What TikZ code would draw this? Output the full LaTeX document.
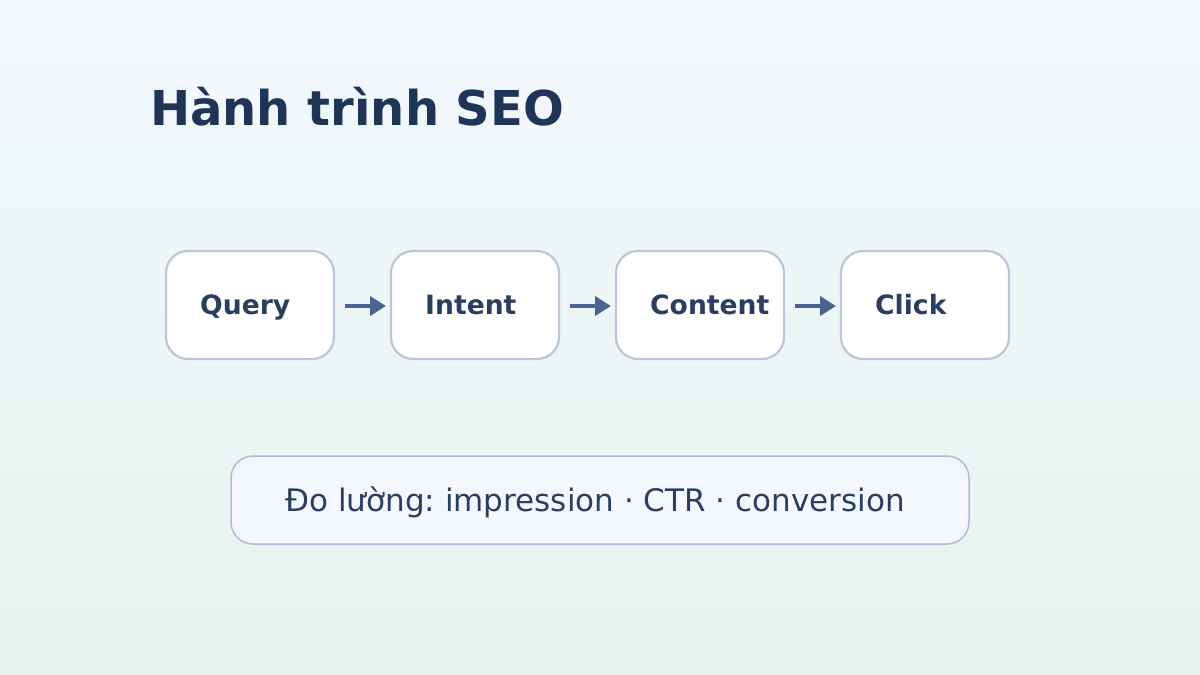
\documentclass[tikz,border=0pt]{standalone}
\usepackage{fontspec}
\setmainfont{DejaVu Sans}
\usetikzlibrary{arrows.meta}
\frenchspacing
\definecolor{bgtop}{HTML}{F3F8FE}
\definecolor{bgbot}{HTML}{E7F3EE}
\definecolor{titlec}{HTML}{1F3558}
\definecolor{textc}{HTML}{2A3F60}
\definecolor{arrowc}{HTML}{4A6491}
\definecolor{boxline}{HTML}{B9C7D9}
\definecolor{noteline}{HTML}{AEBCD8}
\definecolor{notefill}{HTML}{F4F8FE}
\tikzset{
  stepbox/.style={draw=boxline, line width=2.2pt, fill=white, rounded corners=22pt},
  steptext/.style={anchor=base west, inner sep=0pt, text=textc, font=\fontsize{26.6}{30}\selectfont\bfseries},
  flow/.style={draw=arrowc, line width=4pt, -{Triangle[length=16pt,width=19pt]}, shorten <=11pt, shorten >=5pt},
  notebox/.style={draw=noteline, line width=1.5pt, fill=notefill, rounded corners=22pt},
}
\begin{document}
\begin{tikzpicture}[x=1pt,y=-1pt]
\shade[top color=bgtop, bottom color=bgbot] (0,0) rectangle (1200,675);
\useasboundingbox (0,0) rectangle (1200,675);
\node[anchor=base west, inner sep=0pt, text=titlec, font=\fontsize{48}{54}\selectfont\bfseries] (title) at (150,125) {Hành trình SEO};
\foreach \i/\t in {0/Query,1/Intent,2/Content,3/Click}{
  \path[stepbox] (166+225*\i,251) rectangle (334+225*\i,359);
  \coordinate (l\i) at (166+225*\i,306);
  \coordinate (r\i) at (334+225*\i,306);
  \node[steptext] (t\i) at (200+225*\i,314) {\t};
}
\draw[flow] (r0) -- (l1);
\draw[flow] (r1) -- (l2);
\draw[flow] (r2) -- (l3);
\path[notebox] (231,456) rectangle (969,544);
\node[anchor=base, inner sep=0pt, text=textc, font=\fontsize{31}{36}\selectfont] (note) at (595,511) {Đo lường: impression · CTR · conversion};
\end{tikzpicture}
\end{document}
